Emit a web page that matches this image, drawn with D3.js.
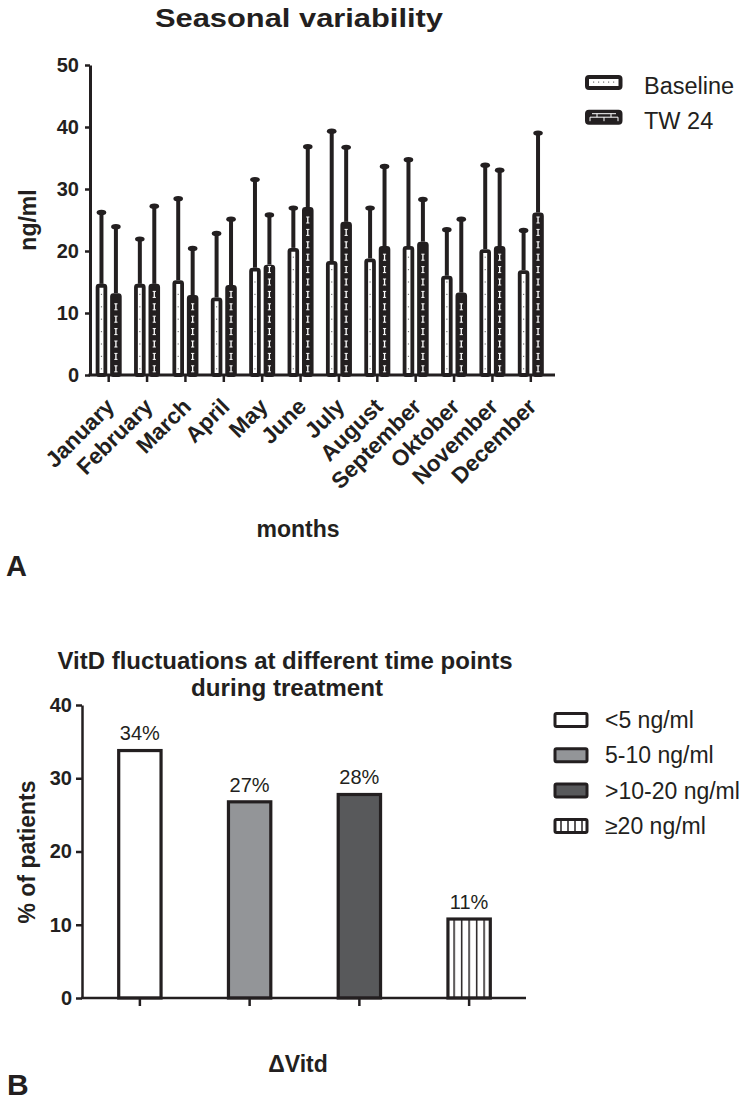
<!DOCTYPE html>
<html><head><meta charset="utf-8">
<script src="https://cdn.jsdelivr.net/npm/d3@7/dist/d3.min.js"></script>
<style>
body{margin:0;background:#fff;}
svg{display:block;font-family:"Liberation Sans",Arial,Helvetica,sans-serif;}
</style></head>
<body><svg id="c" width="750" height="1103"></svg>
<script>
// ---------- Data (panel A) ----------
const months = ["January","February","March","April","May","June","July","August","September","Oktober","November","December"];
const seriesNames = ["Baseline","TW 24"];
const baselineMean = [14.7,14.7,15.3,12.5,17.3,20.5,18.4,18.8,20.8,16.0,20.3,16.9];
const baselineSD   = [11.6,7.3,13.2,10.4,14.3,6.5,21.0,8.2,14.0,7.5,13.6,6.5];
const tw24Mean     = [13.2,14.7,12.9,14.5,17.8,27.1,24.7,20.8,21.5,13.3,20.8,26.2];
const tw24SD       = [10.8,12.6,7.6,10.7,8.1,9.8,12.1,12.9,6.9,11.9,12.3,12.9];
const yTicksA = [0,10,20,30,40,50];

// ---------- Data (panel B) ----------
const groups = ["<5 ng/ml","5-10 ng/ml",">10-20 ng/ml","\u226520 ng/ml"];
const percents = [34,27,28,11];
const percentLabels = ["34%","27%","28%","11%"];
const yTicksB = [0,10,20,30,40];

const ink = "#231f20";
const svg = d3.select("#c");

// ================= Panel A =================
const yA = d3.scaleLinear().domain([0,50]).range([375,65]);
const x0 = d3.scaleBand().domain(months).range([89.5,550]);
const x1 = d3.scaleBand().domain(seriesNames).range([-13,13]).paddingInner(0.2);
const sw = 3.8;

const rowsA = [];
months.forEach((m,i)=>{
  rowsA.push({m, s:"Baseline", v:baselineMean[i], sd:baselineSD[i]});
  rowsA.push({m, s:"TW 24", v:tw24Mean[i], sd:tw24SD[i]});
});
const cxA = d => x0(d.m) + x0.bandwidth()/2 + x1(d.s) + x1.bandwidth()/2;

svg.append("text").attr("x",299).attr("y",27).attr("text-anchor","middle")
  .attr("font-size",26).attr("font-weight","bold").attr("fill",ink)
  .attr("textLength",288).attr("lengthAdjust","spacingAndGlyphs")
  .text("Seasonal variability");

const gA = svg.append("g");
// error bars (behind bars)
gA.selectAll("line.err").data(rowsA).join("line").attr("class","err")
  .attr("x1",cxA).attr("x2",cxA)
  .attr("y1",d=>yA(d.v)).attr("y2",d=>yA(d.v+d.sd))
  .attr("stroke",ink).attr("stroke-width",4);
gA.selectAll("ellipse.cap").data(rowsA).join("ellipse").attr("class","cap")
  .attr("cx",cxA).attr("cy",d=>yA(d.v+d.sd)+0.5).attr("rx",4.8).attr("ry",2.7)
  .attr("fill",ink);
// bars
gA.selectAll("rect.bar").data(rowsA).join("rect").attr("class","bar")
  .attr("x",d=>x0(d.m)+x0.bandwidth()/2+x1(d.s)+sw/2)
  .attr("width",x1.bandwidth()-sw)
  .attr("y",d=>yA(d.v)+sw/2)
  .attr("height",d=>yA(0)-yA(d.v)-sw/2)
  .attr("rx",1.5)
  .attr("fill",d=>d.s==="Baseline"?"#fff":ink)
  .attr("stroke",ink).attr("stroke-width",sw).attr("stroke-linejoin","round");
// inner marks
const marks = [];
rowsA.forEach(d=>{
  for(let k=1;k<d.v-0.6;k+=2) marks.push({d,k});
});
gA.selectAll("g.mk").data(marks).join("g").attr("class","mk")
  .each(function(o){
    const g = d3.select(this);
    const cx = cxA(o.d), cy = yA(o.k);
    if(o.d.s==="Baseline"){
      g.append("rect").attr("x",cx-0.6).attr("y",cy-0.6).attr("width",1.2).attr("height",1.2).attr("fill","#777");
    } else {
      g.append("line").attr("x1",cx).attr("x2",cx).attr("y1",cy-3).attr("y2",cy+3).attr("stroke","#fff").attr("stroke-width",1.3);
      g.append("line").attr("x1",cx-1.6).attr("x2",cx+1.6).attr("y1",cy-3).attr("y2",cy-3).attr("stroke","#fff").attr("stroke-width",1);
      g.append("line").attr("x1",cx-1.6).attr("x2",cx+1.6).attr("y1",cy+3).attr("y2",cy+3).attr("stroke","#fff").attr("stroke-width",1);
    }
  });

// y axis A
const yAxA = svg.append("g").attr("transform","translate(90,0)")
  .call(d3.axisLeft(yA).tickValues(yTicksA).tickSize(5).tickSizeOuter(0).tickPadding(6));
yAxA.select(".domain").attr("stroke",ink).attr("stroke-width",3);
yAxA.selectAll(".tick line").attr("stroke",ink).attr("stroke-width",2.5);
yAxA.selectAll(".tick text").attr("font-size",20).attr("font-weight","bold").attr("fill",ink)
  .attr("font-family","Liberation Sans, Arial, sans-serif");

// x axis A
const xAxA = svg.append("g").attr("transform",`translate(0,${yA(0)})`)
  .call(d3.axisBottom(x0).tickSize(7).tickSizeOuter(0).tickFormat(""));
xAxA.select(".domain").remove();
xAxA.selectAll(".tick line").attr("stroke",ink).attr("stroke-width",2.5);
svg.append("line").attr("x1",88.5).attr("x2",x0.range()[1]+5).attr("y1",yA(0)).attr("y2",yA(0))
  .attr("stroke",ink).attr("stroke-width",3);
svg.append("g").selectAll("text").data(months).join("text")
  .attr("transform",d=>`translate(${x0(d)+x0.bandwidth()/2+7},${yA(0)+33}) rotate(-45)`)
  .attr("text-anchor","end").attr("font-size",22.5).attr("font-weight","bold").attr("fill",ink)
  .text(d=>d);

svg.append("text").attr("transform","translate(36,220) rotate(-90)").attr("text-anchor","middle")
  .attr("font-size",23).attr("font-weight","bold").attr("fill",ink).text("ng/ml");
svg.append("text").attr("x",298).attr("y",537).attr("text-anchor","middle")
  .attr("font-size",23).attr("font-weight","bold").attr("fill",ink).text("months");
svg.append("text").attr("x",6).attr("y",576)
  .attr("font-size",29).attr("font-weight","bold").attr("fill",ink).text("A");

// legend A
const legA = svg.append("g");
seriesNames.forEach((s,i)=>{
  const ty = 76 + i*34.7;
  const g = legA.append("g");
  g.append("rect").attr("x",587).attr("y",ty+1).attr("width",33.5).attr("height",11).attr("rx",2)
    .attr("fill",s==="Baseline"?"#fff":ink).attr("stroke",ink).attr("stroke-width",4);
  if(s==="Baseline"){
    d3.range(5).forEach(j=>g.append("rect").attr("x",593+j*5).attr("y",ty+5.5).attr("width",1.2).attr("height",1.2).attr("fill","#777"));
  } else {
    g.append("line").attr("x1",590).attr("x2",618).attr("y1",ty+6.5).attr("y2",ty+6.5).attr("stroke","#fff").attr("stroke-width",1);
    g.append("line").attr("x1",592).attr("x2",616).attr("y1",ty+3).attr("y2",ty+3).attr("stroke","#fff").attr("stroke-width",1);
    [597,611].forEach(xx=>g.append("line").attr("x1",xx).attr("x2",xx).attr("y1",ty+3).attr("y2",ty+6.5).attr("stroke","#fff").attr("stroke-width",1));
    [590,604,618].forEach(xx=>g.append("line").attr("x1",xx).attr("x2",xx).attr("y1",ty+6.5).attr("y2",ty+10.5).attr("stroke","#fff").attr("stroke-width",1));
  }
  g.append("text").attr("x",644).attr("y",ty+18).attr("font-size",23.5).attr("fill",ink).text(s);
});

// ================= Panel B =================
const yB = d3.scaleLinear().domain([0,40]).range([998,705]);
const xB = d3.scaleBand().domain(groups).range([85,524]).paddingInner(0.585).paddingOuter(0.2925);
const fills = ["#ffffff","#939598","#58595b","url(#vstripe)"];

const defs = svg.append("defs");
const pat = defs.append("pattern").attr("id","vstripe").attr("patternUnits","userSpaceOnUse")
  .attr("width",7.5).attr("height",10)
  .attr("x",xB(groups[3])+xB.bandwidth()/2-0.75);
pat.append("rect").attr("width",7.5).attr("height",10).attr("fill","#fff");
pat.append("rect").attr("x",0).attr("width",1.5).attr("height",10).attr("fill",ink);

svg.append("text").attr("x",285).attr("y",669).attr("text-anchor","middle")
  .attr("font-size",24).attr("font-weight","bold").attr("fill",ink)
  .attr("textLength",455).attr("lengthAdjust","spacingAndGlyphs")
  .text("VitD fluctuations at different time points");
svg.append("text").attr("x",287).attr("y",696).attr("text-anchor","middle")
  .attr("font-size",24).attr("font-weight","bold").attr("fill",ink)
  .attr("textLength",192).attr("lengthAdjust","spacingAndGlyphs")
  .text("during treatment");

const gB = svg.append("g");
const swB = 3.2;
gB.selectAll("rect").data(groups).join("rect")
  .attr("x",d=>xB(d)+swB/2).attr("width",xB.bandwidth()-swB)
  .attr("y",(d,i)=>yB(percents[i])+swB/2)
  .attr("height",(d,i)=>yB(0)-yB(percents[i])-swB/2)
  .attr("fill",(d,i)=>fills[i]).attr("stroke",ink).attr("stroke-width",swB);
gB.selectAll("text").data(groups).join("text")
  .attr("x",d=>xB(d)+xB.bandwidth()/2).attr("y",(d,i)=>yB(percents[i])-8.5)
  .attr("text-anchor","middle").attr("font-size",20).attr("fill",ink)
  .text((d,i)=>percentLabels[i]);

const yAxB = svg.append("g").attr("transform","translate(82,0)")
  .call(d3.axisLeft(yB).tickValues(yTicksB).tickSize(6).tickSizeOuter(0).tickPadding(4));
yAxB.select(".domain").attr("stroke",ink).attr("stroke-width",2.5);
yAxB.selectAll(".tick line").attr("stroke",ink).attr("stroke-width",2.5);
yAxB.selectAll(".tick text").attr("font-size",20).attr("font-weight","bold").attr("fill",ink)
  .attr("font-family","Liberation Sans, Arial, sans-serif");

const xAxB = svg.append("g").attr("transform",`translate(0,${yB(0)})`)
  .call(d3.axisBottom(xB).tickSize(8).tickSizeOuter(0).tickFormat(""));
xAxB.select(".domain").remove();
xAxB.selectAll(".tick line").attr("stroke",ink).attr("stroke-width",2.5);
svg.append("line").attr("x1",81).attr("x2",xB.range()[1]+2).attr("y1",yB(0)).attr("y2",yB(0))
  .attr("stroke",ink).attr("stroke-width",2.5);

svg.append("text").attr("transform","translate(35,852) rotate(-90)").attr("text-anchor","middle")
  .attr("font-size",23).attr("font-weight","bold").attr("fill",ink).text("% of patients");
svg.append("text").attr("x",298).attr("y",1072).attr("text-anchor","middle")
  .attr("font-size",23).attr("font-weight","bold").attr("fill",ink).text("\u0394Vitd");
svg.append("text").attr("x",7).attr("y",1095)
  .attr("font-size",30).attr("font-weight","bold").attr("fill",ink).text("B");

// legend B
const legB = svg.append("g");
groups.forEach((gname,i)=>{
  const cy = 720 + i*35.3;
  const g = legB.append("g");
  g.append("rect").attr("x",555).attr("y",cy-6.5).attr("width",32).attr("height",13).attr("rx",1.5)
    .attr("fill",i<3?fills[i]:"#fff").attr("stroke",ink).attr("stroke-width",3);
  if(i===3){
    d3.range(4).forEach(j=>g.append("line").attr("x1",561+j*7).attr("x2",561+j*7)
      .attr("y1",cy-6.5).attr("y2",cy+6.5).attr("stroke",ink).attr("stroke-width",1.5));
  }
  g.append("text").attr("x",605).attr("y",cy+8).attr("font-size",23).attr("fill",ink).text(gname);
});
</script></body></html>
